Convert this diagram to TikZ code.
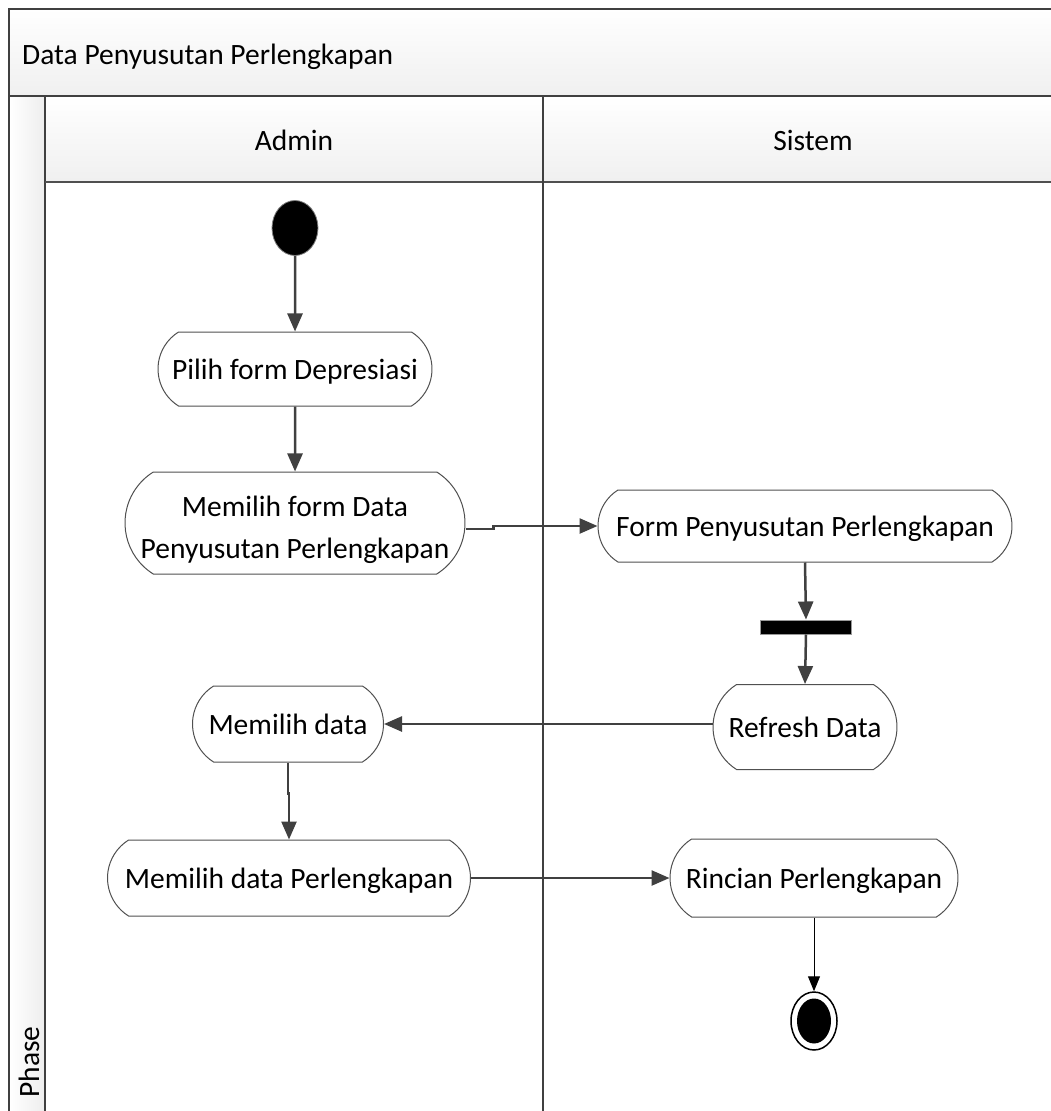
\documentclass[tikz,border=0pt]{standalone}
\usepackage{fontspec}
\setmainfont{Carlito}
\usetikzlibrary{shapes.misc,shapes.geometric,arrows.meta,calc}
\definecolor{dk}{HTML}{404040}
\definecolor{ln}{HTML}{505050}
\newcommand{\fsz}{\fontsize{29.5}{42}\selectfont}
\begin{document}
\begin{tikzpicture}[x=1pt,y=-1pt,
  act/.style={rounded rectangle, rounded rectangle arc length=116, draw=ln, line width=1pt, fill=white, font=\fsz, align=center, inner sep=0pt, text depth=0pt},
  arr/.style={draw=dk, line width=2.5pt, -{Triangle[length=18pt,width=15pt]}},
  thinarr/.style={draw=black, line width=1pt, -{Triangle[length=15pt,width=12pt]}},
  lbl/.style={font=\fsz, inner sep=0pt}
]
\useasboundingbox (0,0) rectangle (1051,1111);
\fill[white] (0,0) rectangle (1051,1111);
\begin{scope}
\clip (0,0) rectangle (1051,1111);
% title band
\shade[top color=white, bottom color=gray!12] (9,9) rectangle (1070,96);
% lane headers
\shade[top color=white, bottom color=gray!12] (45,96) rectangle (1070,182);
% phase column
\shade[left color=white, right color=gray!14] (9,96) rectangle (45,1120);
% lines
\draw[dk, line width=2.5pt] (1070,9) -- (9,9) -- (9,1120);
\draw[dk, line width=2.5pt] (9,96) -- (1070,96);
\draw[dk, line width=2pt] (45,96) -- (45,1120);
\draw[ln, line width=2.5pt] (45,182) -- (1070,182);
\draw[dk, line width=1.5pt] (543,96) -- (543,1120);
\end{scope}
% texts
\node[lbl, anchor=west] (title) at (22,57) {Data Penyusutan Perlengkapan};
\node[lbl] (admin) at (294,140) {Admin};
\node[lbl] (sistem) at (813,140) {Sistem};
\node[lbl, rotate=90] (phase) at (29,1062) {Phase};
% nodes
\node[ellipse, fill=black, draw=gray, line width=0.8pt, minimum width=46pt, minimum height=55pt, inner sep=0pt] (start) at (295,228) {};
\node[act, minimum width=274pt, minimum height=74pt] (pilih) at (295,369) {Pilih form Depresiasi};
\node[act, minimum width=340pt, minimum height=102pt, text height=71pt] (mform) at (295,523) {Memilih form Data\\Penyusutan Perlengkapan};
\node[act, minimum width=414pt, minimum height=72pt] (form) at (805,526) {Form Penyusutan Perlengkapan};
\node[rectangle, fill=black, draw=gray!80, line width=1pt, minimum width=91pt, minimum height=14pt, inner sep=0pt] (bar) at (806,627) {};
\node[act, minimum width=184pt, minimum height=85pt] (refresh) at (805,727) {Refresh Data};
\node[act, minimum width=191pt, minimum height=76pt] (mdata) at (288,724) {Memilih data};
\node[act, minimum width=363pt, minimum height=76pt] (mdp) at (289,878) {Memilih data Perlengkapan};
\node[act, minimum width=288pt, minimum height=78pt] (rincian) at (814,878) {Rincian Perlengkapan};
\node[ellipse, draw=black, line width=1.5pt, fill=white, minimum width=46pt, minimum height=58pt, inner sep=0pt] (final) at (814,1021) {};
\node[ellipse, fill=black, minimum width=34pt, minimum height=45pt, inner sep=0pt] (finalin) at (final.center) {};
% connectors
\draw[arr] (start) -- (pilih);
\draw[arr] (pilih) -- (mform);
\draw[arr] ([yshift=-6pt]mform.east) -- ++(28,0) |- (form.west);
\draw[arr] (form.south) -- (bar.north);
\draw[arr] (bar.south) -- (refresh.north);
\draw[arr] (refresh.west |- mdata.east) -- (mdata.east);
\draw[arr] (mdata.south) -- ++(0,31) -| (mdp.north);
\draw[arr] (mdp.east) -- (rincian.west);
\draw[thinarr] (rincian.south) -- (final.north);
\end{tikzpicture}
\end{document}
